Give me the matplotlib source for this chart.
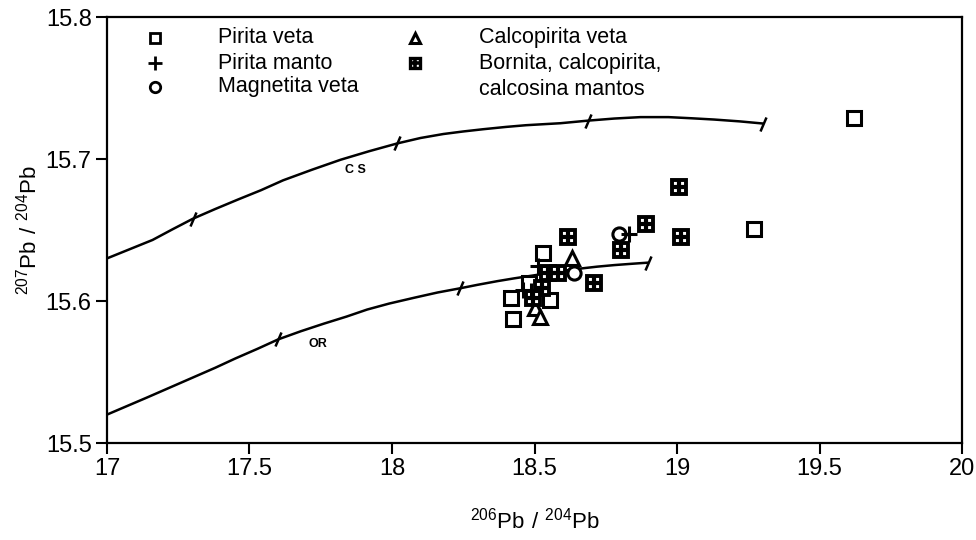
import numpy as np
import matplotlib
matplotlib.use('Agg')
import matplotlib.pyplot as plt
from matplotlib.markers import MarkerStyle
from matplotlib.transforms import Affine2D

plt.rcParams['font.family'] = ['Liberation Sans', 'DejaVu Sans']
plt.rcParams['mathtext.fontset'] = 'custom'
plt.rcParams['mathtext.rm'] = 'Liberation Sans'

# muestras (206Pb/204Pb, 207Pb/204Pb)
pirita_veta_x = [19.62, 19.27, 18.531, 18.479, 18.416, 18.556, 18.426]
pirita_veta_y = [15.729, 15.651, 15.634, 15.613, 15.602, 15.601, 15.587]

pirita_manto_x = [18.83, 18.514, 18.461, 18.486]
pirita_manto_y = [15.647, 15.625, 15.608, 15.607]

magnetita_x = [18.795, 18.637]
magnetita_y = [15.647, 15.620]

calcopirita_x = [18.630, 18.503, 18.521]
calcopirita_y = [15.630, 15.595, 15.589]

bornita_x = [19.006, 19.013, 18.890, 18.802, 18.619, 18.549, 18.581, 18.707, 18.528, 18.493]
bornita_y = [15.680, 15.645, 15.654, 15.636, 15.645, 15.620, 15.620, 15.613, 15.609, 15.602]

# curvas de evolucion
cs_x = [17.0, 17.08, 17.16, 17.23, 17.302, 17.38, 17.46, 17.54, 17.618, 17.72, 17.82, 17.92, 18.019,
        18.10, 18.18, 18.25, 18.321, 18.40, 18.47, 18.53, 18.591, 18.686, 18.78, 18.872, 18.97,
        19.05, 19.13, 19.22, 19.301]
cs_y = [15.630, 15.6365, 15.643, 15.6505, 15.658, 15.6648, 15.6715, 15.678, 15.685, 15.6925, 15.6995,
        15.7055, 15.711, 15.7148, 15.7176, 15.7194, 15.721, 15.7226, 15.7238, 15.7245, 15.7252, 15.727,
        15.7285, 15.7295, 15.7295, 15.7287, 15.7278, 15.7265, 15.725]
cs_ticks_x = [17.302, 18.019, 18.686, 19.301]
cs_ticks_y = [15.658, 15.711, 15.727, 15.725]

or_x = [17.0, 17.07, 17.14, 17.22, 17.30, 17.38, 17.45, 17.53, 17.601, 17.68, 17.76, 17.84, 17.913,
        17.99, 18.08, 18.16, 18.24, 18.30, 18.37, 18.43, 18.496, 18.57, 18.65, 18.72, 18.78, 18.84,
        18.897]
or_y = [15.520, 15.526, 15.532, 15.539, 15.546, 15.553, 15.5595, 15.5665, 15.573, 15.5787, 15.584,
        15.589, 15.594, 15.5982, 15.6024, 15.606, 15.609, 15.6114, 15.614, 15.616, 15.618, 15.6204,
        15.6226, 15.6242, 15.6253, 15.6262, 15.627]
or_ticks_x = [17.601, 18.24, 18.897]
or_ticks_y = [15.573, 15.609, 15.627]

fig = plt.figure(figsize=(9.76, 5.4), dpi=100)
ax = fig.add_axes([0.1096, 0.1796, 0.8761, 0.7889])

ax.plot(cs_x, cs_y, color='black', lw=1.8)
ax.plot(or_x, or_y, color='black', lw=1.8)
tick_mk = MarkerStyle('|', transform=Affine2D().rotate_deg(-25))
ax.plot(cs_ticks_x, cs_ticks_y, ls='none', marker=tick_mk, ms=11, mew=1.8, color='black')
ax.plot(or_ticks_x, or_ticks_y, ls='none', marker=tick_mk, ms=11, mew=1.8, color='black')
ax.text(17.87, 15.692, 'C S', fontsize=9, fontweight='bold', ha='center', va='center')
ax.text(17.74, 15.570, 'OR', fontsize=9, fontweight='bold', ha='center', va='center')

ms = 9.5
ax.plot(pirita_veta_x, pirita_veta_y, ls='none', marker='s', ms=ms, mfc='white', mec='black', mew=2.2)
ax.plot(calcopirita_x, calcopirita_y, ls='none', marker='^', ms=ms, mfc='white', mec='black', mew=2.2)
ax.plot(magnetita_x, magnetita_y, ls='none', marker='o', ms=ms, mfc='white', mec='black', mew=2.2)
ax.plot(bornita_x, bornita_y, ls='none', marker='s', ms=ms, mfc='white', mec='black', mew=2.8)
ax.plot(bornita_x, bornita_y, ls='none', marker='+', ms=ms, mec='black', mew=3.0)
ax.plot(pirita_manto_x, pirita_manto_y, ls='none', marker='+', ms=11, mec='black', mew=2.2)

# leyenda
lt = ax.transAxes
lms = 7.5
ax.plot([0.056], [0.951], transform=lt, marker='s', ms=lms, mfc='white', mec='black', mew=2)
ax.plot([0.056], [0.892], transform=lt, marker='+', ms=10, mec='black', mew=2)
ax.plot([0.056], [0.836], transform=lt, marker='o', ms=lms, mfc='white', mec='black', mew=2)
ax.plot([0.360], [0.951], transform=lt, marker='^', ms=lms, mfc='white', mec='black', mew=2.2)
ax.plot([0.360], [0.892], transform=lt, marker='s', ms=lms, mfc='white', mec='black', mew=2.4)
ax.plot([0.360], [0.892], transform=lt, marker='+', ms=lms, mec='black', mew=2.6)
fs = 15.5
ax.text(0.130, 0.951, 'Pirita veta', transform=lt, fontsize=fs, va='center')
ax.text(0.130, 0.892, 'Pirita manto', transform=lt, fontsize=fs, va='center')
ax.text(0.130, 0.836, 'Magnetita veta', transform=lt, fontsize=fs, va='center')
ax.text(0.435, 0.951, 'Calcopirita veta', transform=lt, fontsize=fs, va='center')
ax.text(0.435, 0.892, 'Bornita, calcopirita,', transform=lt, fontsize=fs, va='center')
ax.text(0.435, 0.831, 'calcosina mantos', transform=lt, fontsize=fs, va='center')

ax.set_xlim(17, 20)
ax.set_ylim(15.5, 15.8)
ax.set_xticks([17, 17.5, 18, 18.5, 19, 19.5, 20])
ax.set_xticklabels(['17', '17.5', '18', '18.5', '19', '19.5', '20'])
ax.set_yticks([15.5, 15.6, 15.7, 15.8])
ax.set_yticklabels(['15.5', '15.6', '15.7', '15.8'])
ax.tick_params(direction='out', length=8, width=1.5, labelsize=17, pad=3)
for s in ax.spines.values():
    s.set_linewidth(1.6)

ax.set_xlabel(r'$\mathregular{^{206}Pb\ /\ ^{204}Pb}$', fontsize=16, labelpad=20)
ax.set_ylabel(r'$\mathregular{^{207}Pb\ /\ ^{204}Pb}$', fontsize=16, labelpad=3)

fig.savefig('out.png', dpi=100)
